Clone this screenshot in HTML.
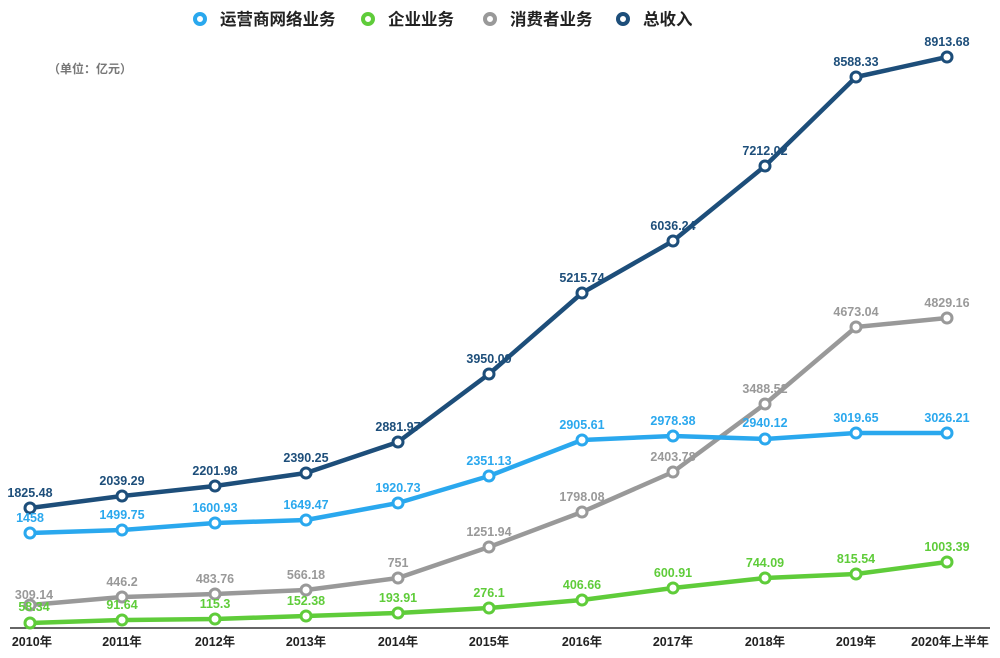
<!DOCTYPE html>
<html><head><meta charset="utf-8"><style>
html,body{margin:0;padding:0;background:#fff;width:1000px;height:658px;overflow:hidden}
text{font-family:"Liberation Sans","Noto Sans CJK SC",sans-serif;font-weight:bold}
</style></head><body>
<svg width="1000" height="658" viewBox="0 0 1000 658" xmlns="http://www.w3.org/2000/svg">
<rect width="1000" height="658" fill="#fff"/>
<g font-size="16.5" fill="#222">
<circle cx="200" cy="19" r="5" fill="none" stroke="#2aa8ee" stroke-width="4"/>
<text x="220" y="25" fill="#222">运营商网络业务</text>
<circle cx="368" cy="19" r="5" fill="none" stroke="#5fcc3a" stroke-width="4"/>
<text x="388" y="25" fill="#222">企业业务</text>
<circle cx="490" cy="19" r="5" fill="none" stroke="#999" stroke-width="4"/>
<text x="510" y="25" fill="#222">消费者业务</text>
<circle cx="623" cy="19" r="5" fill="none" stroke="#1d4e7a" stroke-width="4"/>
<text x="643" y="25" fill="#222">总收入</text>
</g>
<text x="48" y="73" font-size="12" fill="#777" font-weight="normal">（单位：亿元）</text>
<line x1="10" y1="628" x2="990" y2="628" stroke="#333" stroke-width="1.5"/>
<g font-size="12.5" fill="#222" text-anchor="middle">
<text x="32" y="646">2010年</text><text x="122" y="646">2011年</text><text x="215" y="646">2012年</text><text x="306" y="646">2013年</text><text x="398" y="646">2014年</text><text x="489" y="646">2015年</text><text x="582" y="646">2016年</text><text x="673" y="646">2017年</text><text x="765" y="646">2018年</text><text x="856" y="646">2019年</text><text x="950" y="646">2020年上半年</text>
</g>
<g fill="none" stroke-width="4.5" stroke-linejoin="round">
<polyline stroke="#5fcc3a" points="30,623 122,620 215,619 306,616 398,613 489,608 582,600 673,588 765,578 856,574 947,562"/>
<polyline stroke="#999" points="30,605 122,597 215,594 306,590 398,578 489,547 582,512 673,472 765,404 856,327 947,318"/>
<polyline stroke="#2aa8ee" points="30,533 122,530 215,523 306,520 398,503 489,476 582,440 673,436 765,439 856,433 947,433"/>
<polyline stroke="#1d4e7a" points="30,508 122,496 215,486 306,473 398,442 489,374 582,293 673,241 765,166 856,77 947,57"/>
</g>
<g fill="#fff" stroke-width="3">
<g stroke="#5fcc3a"><circle cx="30" cy="623" r="5"/><circle cx="122" cy="620" r="5"/><circle cx="215" cy="619" r="5"/><circle cx="306" cy="616" r="5"/><circle cx="398" cy="613" r="5"/><circle cx="489" cy="608" r="5"/><circle cx="582" cy="600" r="5"/><circle cx="673" cy="588" r="5"/><circle cx="765" cy="578" r="5"/><circle cx="856" cy="574" r="5"/><circle cx="947" cy="562" r="5"/></g>
<g stroke="#999"><circle cx="30" cy="605" r="5"/><circle cx="122" cy="597" r="5"/><circle cx="215" cy="594" r="5"/><circle cx="306" cy="590" r="5"/><circle cx="398" cy="578" r="5"/><circle cx="489" cy="547" r="5"/><circle cx="582" cy="512" r="5"/><circle cx="673" cy="472" r="5"/><circle cx="765" cy="404" r="5"/><circle cx="856" cy="327" r="5"/><circle cx="947" cy="318" r="5"/></g>
<g stroke="#2aa8ee"><circle cx="30" cy="533" r="5"/><circle cx="122" cy="530" r="5"/><circle cx="215" cy="523" r="5"/><circle cx="306" cy="520" r="5"/><circle cx="398" cy="503" r="5"/><circle cx="489" cy="476" r="5"/><circle cx="582" cy="440" r="5"/><circle cx="673" cy="436" r="5"/><circle cx="765" cy="439" r="5"/><circle cx="856" cy="433" r="5"/><circle cx="947" cy="433" r="5"/></g>
<g stroke="#1d4e7a"><circle cx="30" cy="508" r="5"/><circle cx="122" cy="496" r="5"/><circle cx="215" cy="486" r="5"/><circle cx="306" cy="473" r="5"/><circle cx="398" cy="442" r="5"/><circle cx="489" cy="374" r="5"/><circle cx="582" cy="293" r="5"/><circle cx="673" cy="241" r="5"/><circle cx="765" cy="166" r="5"/><circle cx="856" cy="77" r="5"/><circle cx="947" cy="57" r="5"/></g>
</g>
<g font-size="12.5" text-anchor="middle">
<g fill="#5fcc3a"><text x="34" y="611">58.34</text><text x="122" y="609">91.64</text><text x="215" y="608">115.3</text><text x="306" y="605">152.38</text><text x="398" y="602">193.91</text><text x="489" y="597">276.1</text><text x="582" y="589">406.66</text><text x="673" y="577">600.91</text><text x="765" y="567">744.09</text><text x="856" y="563">815.54</text><text x="947" y="551">1003.39</text></g>
<g fill="#999"><text x="34" y="599">309.14</text><text x="122" y="586">446.2</text><text x="215" y="583">483.76</text><text x="306" y="579">566.18</text><text x="398" y="567">751</text><text x="489" y="536">1251.94</text><text x="582" y="501">1798.08</text><text x="673" y="461">2403.78</text><text x="765" y="393">3488.52</text><text x="856" y="316">4673.04</text><text x="947" y="307">4829.16</text></g>
<g fill="#2aa8ee"><text x="30" y="522">1458</text><text x="122" y="519">1499.75</text><text x="215" y="512">1600.93</text><text x="306" y="509">1649.47</text><text x="398" y="492">1920.73</text><text x="489" y="465">2351.13</text><text x="582" y="429">2905.61</text><text x="673" y="425">2978.38</text><text x="765" y="427">2940.12</text><text x="856" y="422">3019.65</text><text x="947" y="422">3026.21</text></g>
<g fill="#1d4e7a"><text x="30" y="497">1825.48</text><text x="122" y="485">2039.29</text><text x="215" y="475">2201.98</text><text x="306" y="462">2390.25</text><text x="398" y="431">2881.97</text><text x="489" y="363">3950.09</text><text x="582" y="282">5215.74</text><text x="673" y="230">6036.24</text><text x="765" y="155">7212.02</text><text x="856" y="66">8588.33</text><text x="947" y="46">8913.68</text></g>
</g>
</svg>
</body></html>
